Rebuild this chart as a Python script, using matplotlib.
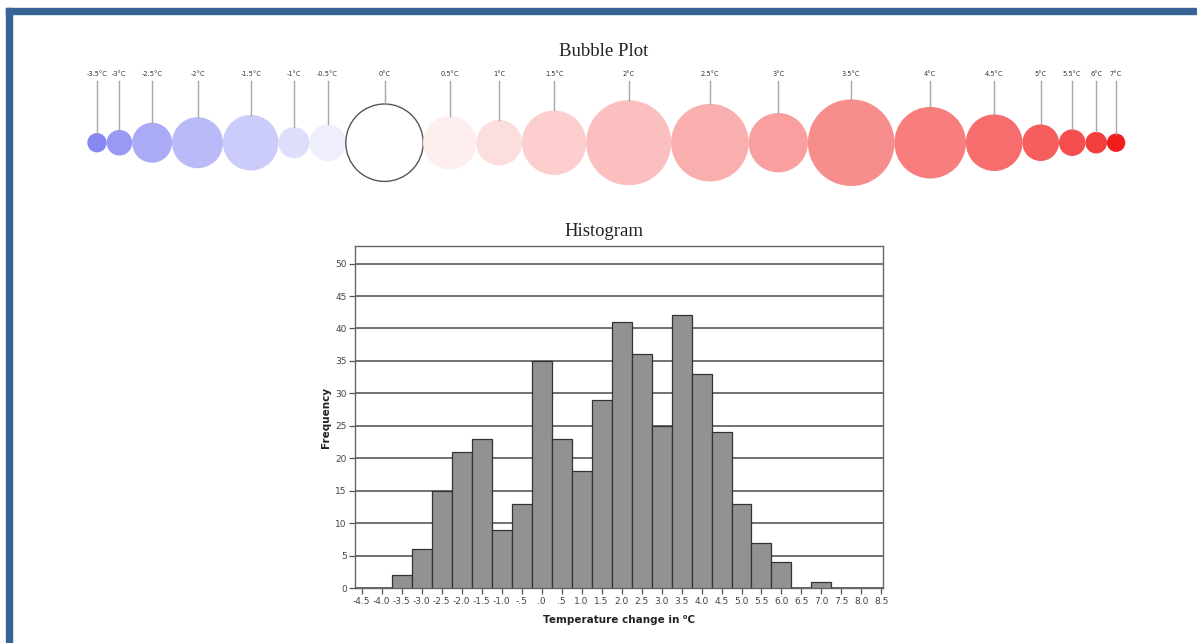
import matplotlib.pyplot as plt
from matplotlib.patches import Circle, Rectangle
from matplotlib.colors import LinearSegmentedColormap, TwoSlopeNorm
from matplotlib.ticker import FuncFormatter

# bubble plot: temperature classes and bubble radii (px)
bubble_temps = [-3.5, -3, -2.5, -2, -1.5, -1, -0.5, 0, 0.5, 1, 1.5, 2, 2.5,
                3, 3.5, 4, 4.5, 5, 5.5, 6, 7]
bubble_radii = [9.7, 12.8, 20, 25.5, 27.8, 15.5, 18.3, 38.7, 26.7, 22.8, 32.2,
                42.5, 38.8, 29.7, 43.3, 35.8, 28.3, 18.3, 13.3, 10.8, 9.2]

# histogram: bin centres (0.5 degC wide) and counts
bin_centres = [-4.5, -4.0, -3.5, -3.0, -2.5, -2.0, -1.5, -1.0, -0.5, 0.0, 0.5,
               1.0, 1.5, 2.0, 2.5, 3.0, 3.5, 4.0, 4.5, 5.0, 5.5, 6.0, 6.5,
               7.0, 7.5, 8.0, 8.5]
counts = [0, 0, 2, 6, 15, 21, 23, 9, 13, 35, 23, 18, 29, 41, 36, 25, 42, 33,
          24, 13, 7, 4, 0, 1, 0, 0, 0]

W, H = 1197, 643
fig = plt.figure(figsize=(W / 100, H / 100), dpi=100)

# blue frame (top and left edges only)
frame_col = '#386396'
fig.patches.append(Rectangle((6 / W, 1 - 14 / H), 1, 6 / H, transform=fig.transFigure,
                             color=frame_col, zorder=0))
fig.patches.append(Rectangle((6 / W, 0), 6 / W, 1 - 8 / H, transform=fig.transFigure,
                             color=frame_col, zorder=0))

# ---- bubble plot, drawn in an overlay axes with pixel-like units ----
bax = fig.add_axes([0, 0, 1, 1], zorder=1)
bax.set_xlim(0, W)
bax.set_ylim(H, 0)
bax.axis('off')
bax.patch.set_alpha(0)

cmap = LinearSegmentedColormap.from_list('bw_r', ['#8888f3', '#ffffff', '#f21e1e'])
norm = TwoSlopeNorm(vmin=-3.5, vcenter=0, vmax=7)

cy = 142.7
x = 97 - bubble_radii[0]
for i, (t, r) in enumerate(zip(bubble_temps, bubble_radii)):
    x += r
    if t == 0:
        bax.add_patch(Circle((x, cy), r, facecolor='white', edgecolor='#555555', lw=1.0))
    else:
        bax.add_patch(Circle((x, cy), r, facecolor=cmap(norm(t)), edgecolor='none'))
    bax.plot([x, x], [81, cy - r], color='#a8a8a8', lw=1.0)
    lab = f"{t:g}\u00b0C"
    bax.text(x, 74, lab, ha='center', va='center', fontsize=4.8, color='#333333')
    x += r - 0.1

bax.text(604, 51, 'Bubble Plot', ha='center', va='center', fontsize=13.5,
         family='Liberation Serif', color='#222222')
bax.text(604, 231, 'Histogram', ha='center', va='center', fontsize=13.5,
         family='Liberation Serif', color='#222222')

# ---- histogram ----
ax = fig.add_axes([355 / W, (H - 588.3) / H, 528 / W, (588.3 - 246) / H], zorder=2)
ax.bar(bin_centres, counts, width=0.5, color='#929292', edgecolor='#333333',
       lw=0.9, zorder=3)
ax.set_xlim(-4.67, 8.54)
ax.set_ylim(0, 52.7)
ax.set_yticks(range(0, 51, 5))
ax.set_xticks(bin_centres)
ax.yaxis.grid(True, color='#4a4a4a', lw=1.1, zorder=1)
ax.set_axisbelow(True)


def fmt(v, pos):
    s = f"{v:.1f}"
    return s.replace('0.', '.', 1) if abs(v) < 1 else s


ax.xaxis.set_major_formatter(FuncFormatter(fmt))
ax.tick_params(axis='both', labelsize=6.5, labelcolor='#444444', color='#555555',
               direction='out', length=4, width=0.9, pad=2)
for sp in ax.spines.values():
    sp.set_color('#666666')
    sp.set_linewidth(1.0)

ax.set_xlabel('Temperature change in \u2070C', fontsize=7.5, fontweight='bold',
              color='#222222', labelpad=7)
ax.set_ylabel('Frequency', fontsize=7.5, fontweight='bold', color='#222222',
              labelpad=3)

fig.savefig('out.png', dpi=100)
